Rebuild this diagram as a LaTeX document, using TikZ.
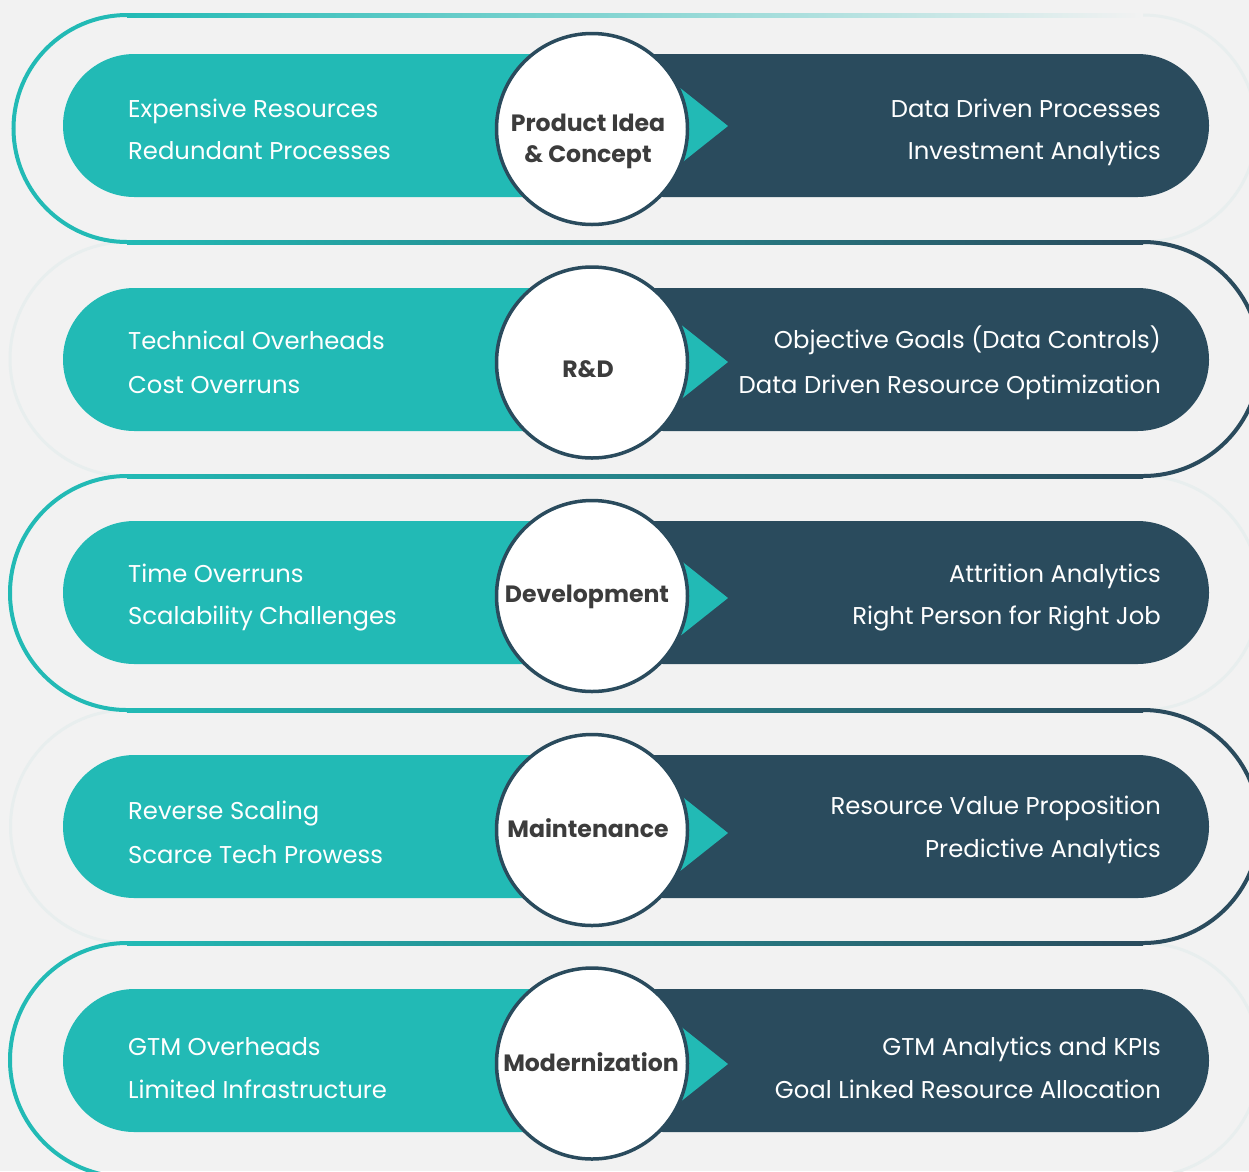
\documentclass[tikz,border=0pt]{standalone}
\usepackage{fontspec}
\setmainfont{Poppins}
\usetikzlibrary{calc}
\definecolor{bg}{HTML}{F2F2F2}
\definecolor{tealc}{HTML}{22BAB5}
\definecolor{darkc}{HTML}{2A4B5D}
\definecolor{ghost}{HTML}{E8EEEE}
\definecolor{labc}{HTML}{3C3C3C}
\tikzset{
  loopteal/.style={draw=tealc, line width=4pt},
  loopdark/.style={draw=darkc, line width=4pt},
  ghostarc/.style={draw=ghost, line width=3pt},
  ringnode/.style={circle, draw=darkc, fill=white, line width=3.5pt, minimum size=191pt, inner sep=0pt},
  pointer/.style={fill=tealc},
  lefttext/.style={anchor=base west, text=white, font=\fontsize{24.3}{28}\selectfont, inner sep=0pt},
  righttext/.style={anchor=base east, text=white, font=\fontsize{24.3}{28}\selectfont, inner sep=0pt},
  stagelabel/.style={anchor=base, text=labc, font=\fontsize{23.6}{28}\selectfont\bfseries, inner sep=0pt},
}
\begin{document}
\begin{tikzpicture}[x=1pt,y=-1pt]
\useasboundingbox (0,0) rectangle (1249,1171);
\fill[bg] (0,0) rectangle (1249,1171);
\clip (0,0) rectangle (1249,1171);

% ghost arcs
\draw[ghostarc] (1143,15) arc[start angle=-90, end angle=90, radius=113.5];
\draw[ghostarc] (127,242) arc[start angle=-90, end angle=-270, radius=117];
\draw[ghostarc] (1143,476) arc[start angle=-90, end angle=90, radius=117];
\draw[ghostarc] (127,710) arc[start angle=-90, end angle=-270, radius=116.5];
\draw[ghostarc] (1143,943) arc[start angle=-90, end angle=90, radius=117];

% loop lines
\shade[left color=tealc, right color=bg] (127,13) rectangle (1143,17);
\draw[loopteal] (127,15) arc[start angle=-90, end angle=-270, radius=113.5];
\shade[left color=tealc, right color=darkc] (127,240) rectangle (1143,244);
\draw[loopdark] (1143,242) arc[start angle=-90, end angle=90, radius=117];
\shade[left color=tealc, right color=darkc] (127,474) rectangle (1143,478);
\draw[loopteal] (127,476) arc[start angle=-90, end angle=-270, radius=117];
\shade[left color=tealc, right color=darkc] (127,708) rectangle (1143,712);
\draw[loopdark] (1143,710) arc[start angle=-90, end angle=90, radius=116.5];
\shade[left color=tealc, right color=darkc] (127,941) rectangle (1143,945);
\draw[loopteal] (127,943) arc[start angle=-90, end angle=-270, radius=117];
\shade[left color=tealc, right color=darkc] (127,1175) rectangle (1143,1179);

% pills
\foreach \t/\b in {54/197, 288/431, 521/664, 755/898, 989/1132}{
  \fill[tealc, rounded corners=71.5pt] (63,\t) rectangle (620,\b);
  \fill[tealc] (540,\t) rectangle (620,\b);
  \fill[darkc, rounded corners=71.5pt] (592,\t) rectangle (1209,\b);
  \fill[darkc] (592,\t) rectangle (700,\b);
}

% circle centres
\coordinate (k1) at (592,129);
\coordinate (k2) at (592,362.5);
\coordinate (k3) at (592,596);
\coordinate (k4) at (592,830);
\coordinate (k5) at (592,1063.5);

% arrow triangles (under the circles)
\foreach \k/\dy in {k1/-3, k2/-0.5, k3/2, k4/3, k5/0.5}{
  \fill[pointer] ($(\k)+(68,\dy-54)$) -- ($(\k)+(136,\dy)$) -- ($(\k)+(68,\dy+54)$) -- cycle;
}

% circles
\node[ringnode] (c1) at (k1) {};
\node[ringnode] (c2) at (k2) {};
\node[ringnode] (c3) at (k3) {};
\node[ringnode] (c4) at (k4) {};
\node[ringnode] (c5) at (k5) {};

% stage labels
\node[stagelabel] (s1a) at (588,131) {Product Idea};
\node[stagelabel] (s1b) at (588,162) {\& Concept};
\node[stagelabel] (s2) at (588,377) {R\&D};
\node[stagelabel] (s3) at (587,602) {Development};
\node[stagelabel] (s4) at (588,837) {Maintenance};
\node[stagelabel] (s5) at (591,1071) {Modernization};

% left texts
\node[lefttext] (l1a) at (128,117) {Expensive Resources};
\node[lefttext] (l1b) at (128,159) {Redundant Processes};
\node[lefttext] (l2a) at (128,349) {Technical Overheads};
\node[lefttext] (l2b) at (128,393) {Cost Overruns};
\node[lefttext] (l3a) at (128,582) {Time Overruns};
\node[lefttext] (l3b) at (128,624) {Scalability Challenges};
\node[lefttext] (l4a) at (128,819) {Reverse Scaling};
\node[lefttext] (l4b) at (128,863) {Scarce Tech Prowess};
\node[lefttext] (l5a) at (128,1055) {GTM Overheads};
\node[lefttext] (l5b) at (128,1098) {Limited Infrastructure};

% right texts
\node[righttext] (r1a) at (1161,117) {Data Driven Processes};
\node[righttext] (r1b) at (1161,159) {Investment Analytics};
\node[righttext] (r2a) at (1161,348) {Objective Goals (Data Controls)};
\node[righttext] (r2b) at (1161,393) {Data Driven Resource Optimization};
\node[righttext] (r3a) at (1161,582) {Attrition Analytics};
\node[righttext] (r3b) at (1161,624) {Right Person for Right Job};
\node[righttext] (r4a) at (1161,814) {Resource Value Proposition};
\node[righttext] (r4b) at (1161,857) {Predictive Analytics};
\node[righttext] (r5a) at (1161,1055) {GTM Analytics and KPIs};
\node[righttext] (r5b) at (1161,1098) {Goal Linked Resource Allocation};
\end{tikzpicture}
\end{document}
